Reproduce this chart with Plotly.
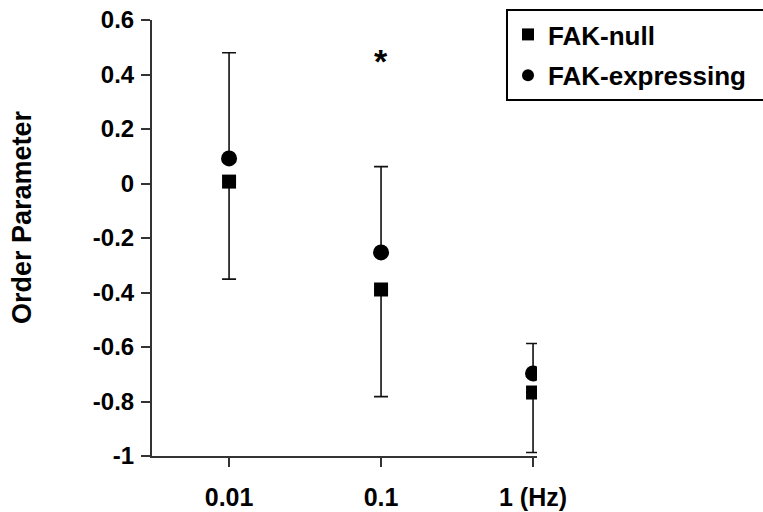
import plotly.graph_objects as go

freq_labels = ["0.01", "0.1", "1 (Hz)"]
freq_pos = [0, 1, 2]
fak_null = [0.007, -0.389, -0.767]
fak_null_err_lower = [0.358, 0.393, 0.22]
fak_expr = [0.092, -0.253, -0.697]
fak_expr_err_upper = [0.388, 0.315, 0.11]
zeros = [0, 0, 0]
ytick_vals = [0.6, 0.4, 0.2, 0, -0.2, -0.4, -0.6, -0.8, -1]
ytick_text = ["0.6", "0.4", "0.2", "0", "-0.2", "-0.4", "-0.6", "-0.8", "-1"]
star_x = 1
star_y = 0.45

FONT = "Arial, 'Liberation Sans', sans-serif"
INK = "#111111"

fig = go.Figure()
fig.add_trace(go.Scatter(
    x=freq_pos, y=fak_null, mode="markers", name="FAK-null", legendgroup="a",
    marker=dict(symbol="square", size=14, color="black"),
    error_y=dict(type="data", symmetric=False, array=zeros, arrayminus=fak_null_err_lower,
                 color=INK, thickness=1.6, width=7),
))
fig.add_trace(go.Scatter(
    x=freq_pos, y=fak_expr, mode="markers", name="FAK-expressing\u00a0\u00a0", legendgroup="b",
    marker=dict(symbol="circle", size=16, color="black"),
    error_y=dict(type="data", symmetric=False, array=fak_expr_err_upper, arrayminus=zeros,
                 color=INK, thickness=1.6, width=7),
))

fig.add_annotation(x=star_x, y=star_y, xref="x", yref="y", text="*", showarrow=False,
                   font=dict(family=FONT, size=34, color="black", weight="bold"),
                   yanchor="middle", yshift=0)

fig.add_annotation(x=-0.3377, y=0.548, xref="paper", yref="paper", text="Order Parameter",
                   textangle=-90, showarrow=False, xanchor="center", yanchor="middle",
                   font=dict(family=FONT, size=27, color="black", weight="bold"))

fig.update_layout(
    width=763, height=512,
    margin=dict(l=152, r=226, t=20, b=56, autoexpand=False),
    paper_bgcolor="white", plot_bgcolor="white",
    font=dict(family=FONT, color="black", weight="bold"),
    showlegend=True,
    legend=dict(x=0.9195, y=1.0252, xanchor="left", yanchor="top",
                bordercolor="black", borderwidth=2, bgcolor="white",
                tracegroupgap=4,
                font=dict(family=FONT, size=26, color="black", weight="bold"),
                itemsizing="constant"),
    xaxis=dict(range=[-0.507, 2.026], tickvals=freq_pos, ticktext=freq_labels,
               showgrid=False, zeroline=False, showline=True, linecolor="#333333", linewidth=2,
               ticks="outside", ticklen=9, tickwidth=2, tickcolor="#333333",
               tickfont=dict(family=FONT, size=25, color="black", weight="bold"),
               ticklabelstandoff=9, automargin=False, ticklabeloverflow="allow"),
    yaxis=dict(range=[-1, 0.6], tickvals=ytick_vals, ticktext=ytick_text,
               showgrid=False, zeroline=False, showline=True, linecolor="#333333", linewidth=2,
               ticks="outside", ticklen=9, tickwidth=2, tickcolor="#333333",
               tickfont=dict(family=FONT, size=24, color="black", weight="bold"),
               ticklabelstandoff=2, automargin=False, ticklabeloverflow="allow"),
)

# remove the browser's default 8px body margin so the figure fills the window
fig.write_html("out.html", config={"displayModeBar": False},
               post_script="document.body.style.margin='0px';")
